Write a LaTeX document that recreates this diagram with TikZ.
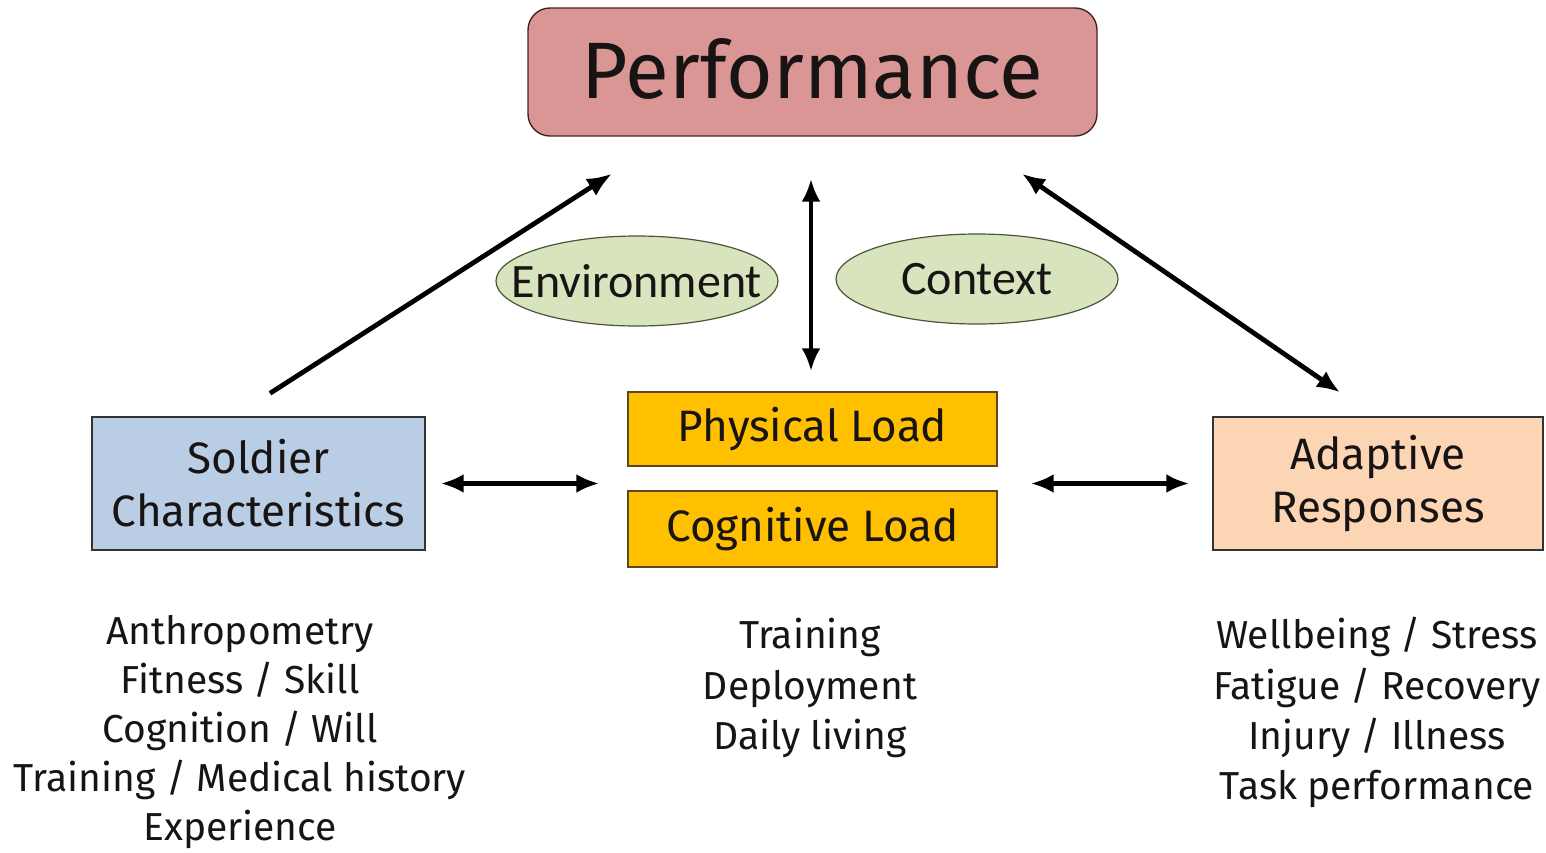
\documentclass[tikz,border=0pt]{standalone}
\usepackage{fontspec}
\setmainfont{Fira Sans}
\newfontfamily\calibrilike{Carlito}
\usetikzlibrary{arrows.meta,calc,shapes.geometric}

\definecolor{perfFill}{RGB}{217,150,148}
\definecolor{perfLine}{RGB}{70,35,35}
\definecolor{soldFill}{RGB}{185,205,229}
\definecolor{loadFill}{RGB}{255,192,0}
\definecolor{loadLine}{RGB}{95,70,30}
\definecolor{adaptFill}{RGB}{252,213,181}
\definecolor{envFill}{RGB}{215,228,189}
\definecolor{envLine}{RGB}{75,85,55}
\definecolor{inkText}{RGB}{25,20,20}

\tikzset{
  box/.style={draw=#1, line width=1.4pt, inner sep=0pt, align=center,
    text=inkText, font=\fontsize{44}{53}\selectfont},
  oval/.style={ellipse, draw=envLine, line width=1.2pt, fill=envFill,
    inner sep=0pt, minimum width=282pt, minimum height=90pt,
    text=inkText, font=\calibrilike\fontsize{48}{50}\selectfont},
  listline/.style={anchor=base, inner sep=0pt, text=inkText,
    font=\fontsize{39}{50}\selectfont},
  oneway/.style={line width=4.8pt, -{Latex[length=25pt,width=20pt]}},
  twoway/.style={line width=4.8pt, {Latex[length=23pt,width=19pt]}-{Latex[length=23pt,width=19pt]}}
}

\begin{document}
\begin{tikzpicture}[x=1pt,y=-1pt]
  \useasboundingbox (0,0) rectangle (1546,852);

  % main boxes
  \node[box=perfLine, fill=perfFill, rounded corners=22pt,
        minimum width=569pt, minimum height=128pt,
        font=\fontsize{80}{80}\selectfont] (perf) at (812.5,72) {\raisebox{7pt}{Performance}};
  \node[box=black!80, fill=soldFill, minimum width=333pt, minimum height=133pt]
        (soldier) at (258.5,483.5) {Soldier\\Characteristics};
  \node[box=loadLine, fill=loadFill, minimum width=369pt, minimum height=74pt]
        (phys) at (812.5,429) {Physical Load};
  \node[box=loadLine, fill=loadFill, minimum width=369pt, minimum height=76pt]
        (cogn) at (812.5,529) {Cognitive Load};
  \node[box=black!80, fill=adaptFill, minimum width=330pt, minimum height=133pt]
        (adapt) at (1378,483.5) {Adaptive\\Responses};

  % influences (zero-width text keeps the ellipse at its set size)
  \node[oval] (env) at (637,281) {\makebox[0pt]{Environment}};
  \node[oval] (ctx) at (977,279) {\makebox[0pt]{Context}};

  % connectors
  \coordinate (sTop) at ($(soldier.north)+(11.5,-23)$);
  \coordinate (pLeft) at ($(perf.south)+(-200.5,37)$);
  \coordinate (pRight) at ($(perf.south)+(209.5,37)$);
  \coordinate (aTop) at ($(adapt.north)+(-38,-24)$);

  \draw[oneway] (sTop) -- (pLeft);
  \draw[twoway] (pRight) -- (aTop);
  \draw[twoway, shorten <=42pt, shorten >=20pt] ($(perf.south)+(-1.5,0)$) -- ($(phys.north)+(-1.5,0)$);
  \draw[twoway, shorten <=15pt, shorten >=28pt] (soldier.east) -- (soldier.east -| phys.west);
  \draw[twoway, shorten <=33pt, shorten >=23pt] (adapt.west -| phys.east) -- (adapt.west);

  % factor lists
  \node[listline] (s1) at (240,644) {Anthropometry};
  \node[listline] (s2) at (240,693) {Fitness / Skill};
  \node[listline] (s3) at (240,742) {Cognition / Will};
  \node[listline] (s4) at (240,791) {Training / Medical history};
  \node[listline] (s5) at (240,840) {Experience};

  \node[listline] (l1) at (810,648) {Training};
  \node[listline] (l2) at (810,699) {Deployment};
  \node[listline] (l3) at (810,749) {Daily living};

  \node[listline] (a1) at (1377,648) {Wellbeing / Stress};
  \node[listline] (a2) at (1377,699) {Fatigue / Recovery};
  \node[listline] (a3) at (1377,749) {Injury / Illness};
  \node[listline] (a4) at (1377,799) {Task performance};
\end{tikzpicture}
\end{document}
